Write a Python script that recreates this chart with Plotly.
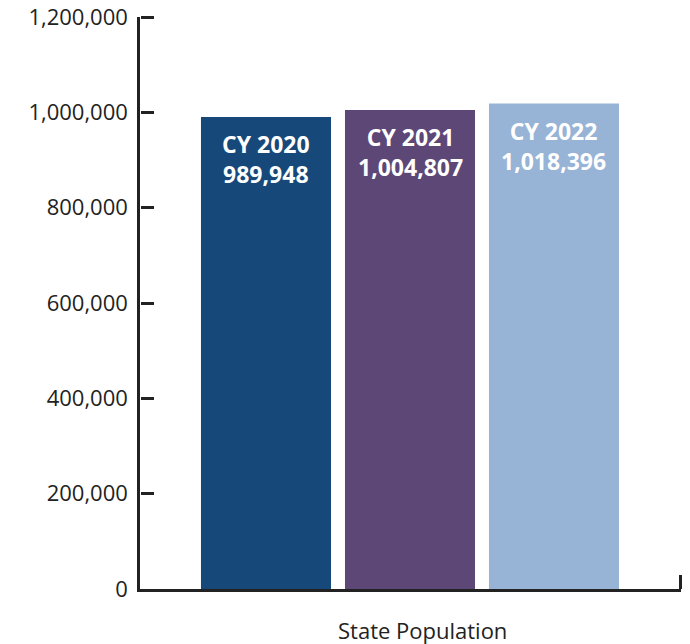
import plotly.graph_objects as go

# Calendar-year state population
years = ["CY 2020", "CY 2021", "CY 2022"]
population = [989948, 1004807, 1018396]
bar_colors = ["#17487a", "#5d4777", "#97b3d5"]
y_ticks = [0, 200000, 400000, 600000, 800000, 1000000, 1200000]
axis_title = "State Population"

x_pos = list(range(len(years)))
x_range = [-0.875, 2.882]
axis_color = "#222222"

fig = go.Figure()
fig.add_trace(go.Bar(
    x=x_pos,
    y=population,
    width=0.903,
    marker=dict(color=bar_colors, line=dict(width=0)),
    hoverinfo="skip",
))
# Invisible companion trace so the tick-only overlay axes get drawn
fig.add_trace(go.Scatter(
    x=x_pos, y=population, xaxis="x2", yaxis="y2",
    mode="none", hoverinfo="skip", showlegend=False,
))

# Year and value written inside the top of each bar
for xp, yr, val in zip(x_pos, years, population):
    fig.add_annotation(
        x=xp, y=val, xref="x", yref="y",
        text=f"<b>{yr}<br>{val:,}</b>",
        showarrow=False,
        yanchor="top", yshift=-9,
        font=dict(family="Open Sans", size=23, color="white"),
    )

fig.add_annotation(
    x=0.523, y=0, xref="paper", yref="paper",
    text=axis_title, showarrow=False,
    yanchor="middle", yshift=-41,
    font=dict(family="Open Sans", size=22, color=axis_color),
)

fig.update_layout(
    width=690, height=644,
    margin=dict(l=140, r=9, t=17, b=55, autoexpand=False),
    plot_bgcolor="white", paper_bgcolor="white",
    showlegend=False,
    font=dict(family="Open Sans", color=axis_color),
    xaxis=dict(
        range=x_range,
        showgrid=False, zeroline=False,
        showline=True, linecolor=axis_color, linewidth=2.5,
        showticklabels=False, ticks="",
        automargin=False, fixedrange=True,
    ),
    yaxis=dict(
        range=[0, 1200000],
        tickmode="array", tickvals=y_ticks,
        ticktext=[f"{v:,}" for v in y_ticks],
        showgrid=False, zeroline=False,
        showline=True, linecolor=axis_color, linewidth=2.5,
        ticks="outside", ticklen=5, tickcolor="rgba(0,0,0,0)",
        tickfont=dict(family="Open Sans", size=22, color=axis_color),
        automargin=False, fixedrange=True,
    ),
    # Overlay axes that only carry the tick marks pointing into the plot
    xaxis2=dict(
        overlaying="x", matches="x", side="top",
        anchor="free", position=0,
        range=x_range,
        showgrid=False, zeroline=False, showline=False,
        tickmode="array", tickvals=[x_range[1] - 0.005], ticktext=[""],
        ticks="outside", ticklen=14, tickwidth=2.5, tickcolor=axis_color,
        showticklabels=False,
        automargin=False, fixedrange=True,
    ),
    yaxis2=dict(
        overlaying="y", matches="y", side="right",
        anchor="free", position=0,
        range=[0, 1200000],
        showgrid=False, zeroline=False, showline=False,
        tickmode="array", tickvals=y_ticks[1:],
        ticks="outside", ticklen=13, tickwidth=2.5, tickcolor=axis_color,
        showticklabels=False,
        automargin=False, fixedrange=True,
    ),
)

fig.write_html("out.html")
